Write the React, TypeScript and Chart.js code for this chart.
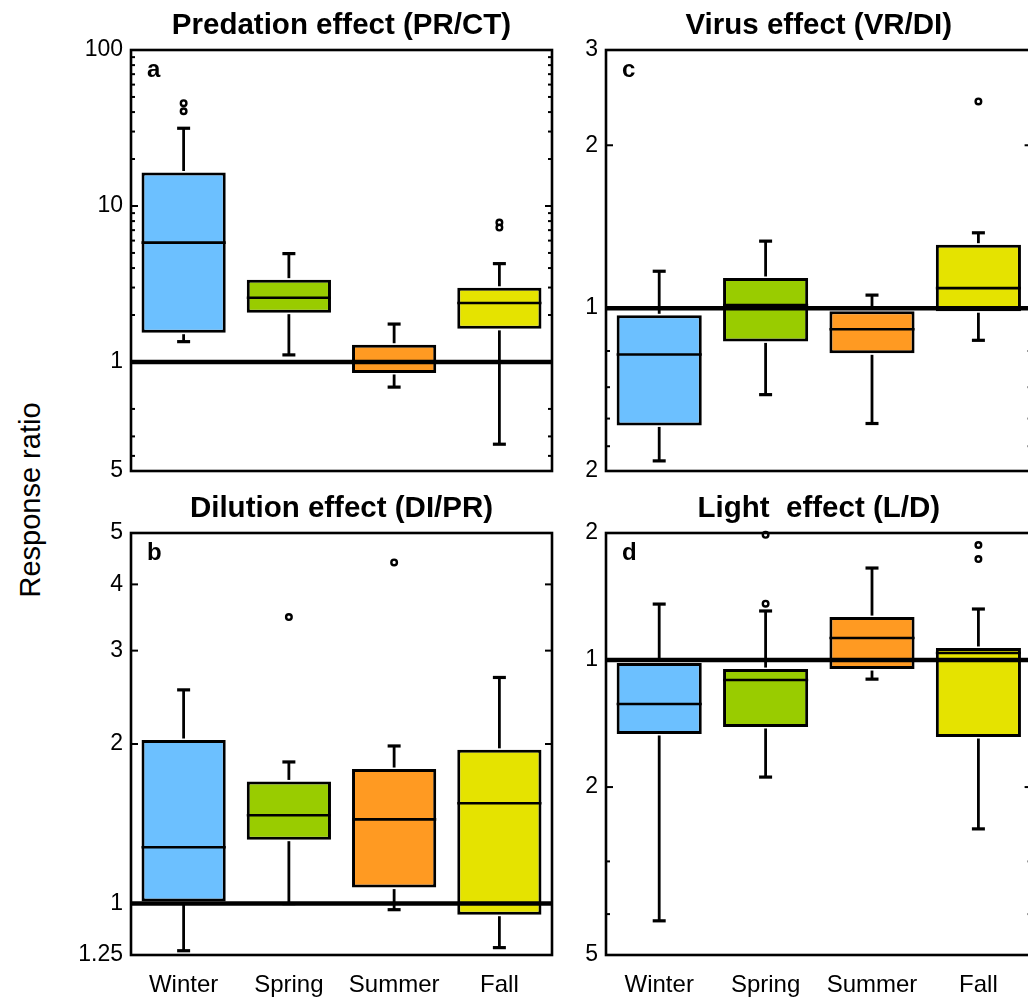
import React, { useEffect, useRef } from 'react';
import { Chart, registerables } from 'chart.js';

Chart.register(...registerables);

const FONT = 'Liberation Sans, Arial, Helvetica, sans-serif';

// Categories and colours
const categories = ['Winter', 'Spring', 'Summer', 'Fall'];
const boxColors = ['#6CC0FF', '#99CC00', '#FF9A22', '#E5E300'];

// Panel a: Predation effect (PR/CT)
const aQ1 = [1.54, 2.07, 0.85, 1.63];
const aMedian = [5.82, 2.58, 1.01, 2.39];
const aQ3 = [16.4, 3.37, 1.29, 2.99];
const aLow = [1.35, 1.11, 0.69, 0.297];
const aHigh = [31.5, 4.95, 1.75, 4.27];
const aOutliers = [[45.6, 40.5], [], [], [7.83, 7.27]];
const aTicks = [0.2, 1, 10, 100];
const aTickLabels = ['5', '1', '10', '100'];
const aMinorTicks = [0.25, 0.3333, 0.5, 2, 3, 4, 5, 6, 7, 8, 9, 20, 30, 40, 50, 60, 70, 80, 90];

// Panel b: Dilution effect (DI/PR)
const bQ1 = [1.009, 1.32, 1.072, 0.953];
const bMedian = [1.277, 1.468, 1.442, 1.546];
const bQ3 = [2.035, 1.7, 1.794, 1.95];
const bLow = [0.815, 1.0, 0.974, 0.826];
const bHigh = [2.53, 1.85, 1.983, 2.67];
const bOutliers = [[], [3.47], [4.4], []];
const bTicks = [0.8, 1, 2, 3, 4, 5];
const bTickLabels = ['1.25', '1', '2', '3', '4', '5'];
const bMinorTicks: number[] = [];

// Panel c: Virus effect (VR/DI)
const cQ1 = [0.607, 0.868, 0.825, 0.987];
const cMedian = [0.821, 1.013, 0.914, 1.089];
const cQ3 = [0.97, 1.137, 0.987, 1.31];
const cLow = [0.522, 0.692, 0.612, 0.872];
const cHigh = [1.17, 1.33, 1.057, 1.378];
const cOutliers = [[], [], [], [2.41]];
const cTicks = [0.5, 1, 2, 3];
const cTickLabels = ['2', '1', '2', '3'];
const cMinorTicks = [0.5556, 0.625, 0.7143, 0.8333];

// Panel d: Light effect (L/D)
const dQ1 = [0.668, 0.694, 0.952, 0.657];
const dMedian = [0.787, 0.897, 1.128, 1.039];
const dQ3 = [0.984, 0.952, 1.264, 1.068];
const dLow = [0.241, 0.528, 0.901, 0.398];
const dHigh = [1.357, 1.307, 1.652, 1.321];
const dOutliers = [[], [1.98, 1.36], [], [1.873, 1.735]];
const dTicks = [0.2, 0.5, 1, 2];
const dTickLabels = ['5', '2', '1', '2'];
const dMinorTicks = [0.25, 0.3333];

type PanelCfg = {
  title: string;
  letter: string;
  q1: number[];
  median: number[];
  q3: number[];
  low: number[];
  high: number[];
  outliers: number[][];
  ticks: number[];
  tickLabels: string[];
  minor: number[];
  showX: boolean;
  left: number;
  top: number;
  width: number;
  height: number;
  padRight: number;
  titleTop: number;
};

const TITLE_SIZE = 29.5;
const TITLE_LINE = TITLE_SIZE * 1.2;

const panels: PanelCfg[] = [
  {
    title: 'Predation effect (PR/CT)', letter: 'a',
    q1: aQ1, median: aMedian, q3: aQ3, low: aLow, high: aHigh, outliers: aOutliers,
    ticks: aTicks, tickLabels: aTickLabels, minor: aMinorTicks,
    showX: false, left: 70, top: 0, width: 510, height: 480, padRight: 28, titleTop: 8,
  },
  {
    title: 'Virus effect (VR/DI)', letter: 'c',
    q1: cQ1, median: cMedian, q3: cQ3, low: cLow, high: cHigh, outliers: cOutliers,
    ticks: cTicks, tickLabels: cTickLabels, minor: cMinorTicks,
    showX: false, left: 545, top: 0, width: 493, height: 480, padRight: 1, titleTop: 8,
  },
  {
    title: 'Dilution effect (DI/PR)', letter: 'b',
    q1: bQ1, median: bMedian, q3: bQ3, low: bLow, high: bHigh, outliers: bOutliers,
    ticks: bTicks, tickLabels: bTickLabels, minor: bMinorTicks,
    showX: true, left: 70, top: 480, width: 510, height: 517, padRight: 28, titleTop: 11,
  },
  {
    title: 'Light  effect (L/D)', letter: 'd',
    q1: dQ1, median: dMedian, q3: dQ3, low: dLow, high: dHigh, outliers: dOutliers,
    ticks: dTicks, tickLabels: dTickLabels, minor: dMinorTicks,
    showX: true, left: 545, top: 480, width: 493, height: 517, padRight: 1, titleTop: 11,
  },
];

function ChartPanel({ cfg }: { cfg: PanelCfg }) {
  const ref = useRef<HTMLCanvasElement>(null);

  useEffect(() => {
    const canvas = ref.current;
    if (!canvas) return;

    const extras = {
      id: 'boxExtras',
      afterDatasetsDraw(chart: any) {
        const { ctx, chartArea } = chart;
        const y = chart.scales.y;
        const meta = chart.getDatasetMeta(0);
        ctx.save();
        ctx.strokeStyle = '#000';
        ctx.lineCap = 'butt';
        const seg = (x1: number, y1: number, x2: number, y2: number, w: number) => {
          ctx.lineWidth = w;
          ctx.beginPath();
          ctx.moveTo(x1, y1);
          ctx.lineTo(x2, y2);
          ctx.stroke();
        };
        meta.data.forEach((bar: any, i: number) => {
          const half = bar.width / 2;
          const ym = y.getPixelForValue(cfg.median[i]);
          seg(bar.x - half, ym, bar.x + half, ym, 2.6);
          const yq3 = y.getPixelForValue(cfg.q3[i]);
          const yq1 = y.getPixelForValue(cfg.q1[i]);
          const yh = y.getPixelForValue(cfg.high[i]);
          const yl = y.getPixelForValue(cfg.low[i]);
          seg(bar.x, yq3 - 1.5, bar.x, yh, 2.8);
          seg(bar.x, yq1 + 1.5, bar.x, yl, 2.8);
          seg(bar.x - 6.5, yh, bar.x + 6.5, yh, 3.2);
          seg(bar.x - 6.5, yl, bar.x + 6.5, yl, 3.2);
        });
        // reference line at 1
        const y1 = y.getPixelForValue(1);
        seg(chartArea.left, y1, chartArea.right, y1, 4.5);
        // inner tick marks on both sides
        const inner = cfg.ticks.slice(1, cfg.ticks.length - 1);
        inner.forEach((v) => {
          const p = y.getPixelForValue(v);
          seg(chartArea.left, p, chartArea.left + 7, p, 2);
          seg(chartArea.right, p, chartArea.right - 7, p, 2);
        });
        cfg.minor.forEach((v) => {
          const p = y.getPixelForValue(v);
          seg(chartArea.left, p, chartArea.left + 4, p, 2);
          seg(chartArea.right, p, chartArea.right - 4, p, 2);
        });
        // frame
        ctx.lineWidth = 2.6;
        ctx.strokeRect(chartArea.left, chartArea.top, chartArea.right - chartArea.left, chartArea.bottom - chartArea.top);
        // panel letter
        ctx.fillStyle = '#000';
        ctx.font = `bold 24px ${FONT}`;
        ctx.textAlign = 'left';
        ctx.textBaseline = 'alphabetic';
        ctx.fillText(cfg.letter, chartArea.left + 16, chartArea.top + 27);
        ctx.restore();
      },
    };

    const outlierPoints = cfg.outliers.flatMap((vals, i) =>
      vals.map((v) => ({ x: categories[i], y: v }))
    );

    const chart = new Chart(canvas, {
      type: 'bar',
      data: {
        labels: categories,
        datasets: [
          {
            type: 'bar',
            data: cfg.q1.map((v, i) => [v, cfg.q3[i]]) as any,
            backgroundColor: boxColors,
            borderColor: '#000',
            borderWidth: 3,
            borderSkipped: false,
            categoryPercentage: 0.8,
            barPercentage: 1.0,
          } as any,
          {
            type: 'scatter',
            data: outlierPoints as any,
            pointRadius: 2.8,
            pointBackgroundColor: '#fff',
            pointBorderColor: '#000',
            pointBorderWidth: 2.4,
            clip: false,
          } as any,
        ],
      },
      options: {
        animation: false,
        responsive: false,
        maintainAspectRatio: false,
        events: [],
        layout: {
          padding: { left: 0, right: cfg.padRight, top: 0, bottom: cfg.showX ? 0 : 9 },
        },
        plugins: {
          legend: { display: false },
          tooltip: { enabled: false },
          title: {
            display: true,
            text: cfg.title,
            fullSize: false,
            color: '#000',
            font: { family: FONT, size: TITLE_SIZE, weight: 'bold', lineHeight: 1.2 },
            padding: { top: cfg.titleTop, bottom: (cfg.showX ? 53 : 50) - cfg.titleTop - TITLE_LINE },
          },
        },
        scales: {
          x: {
            type: 'category',
            display: cfg.showX,
            offset: true,
            grid: { display: false, drawTicks: false },
            border: { display: false },
            ticks: {
              color: '#000',
              font: { family: FONT, size: 24 },
              padding: 16,
              maxRotation: 0,
              autoSkip: false,
            },
            afterFit: (s: any) => {
              s.height = cfg.showX ? 42 : 0;
              s.paddingLeft = 0;
              s.paddingRight = 0;
            },
          },
          y: {
            type: 'logarithmic',
            min: cfg.ticks[0],
            max: cfg.ticks[cfg.ticks.length - 1],
            grid: { display: false, drawTicks: false },
            border: { display: false },
            ticks: {
              color: '#000',
              font: { family: FONT, size: 23 },
              padding: 8,
              autoSkip: false,
              callback: (_v: any, i: number) => cfg.tickLabels[i] ?? '',
            },
            afterBuildTicks: (s: any) => {
              s.ticks = cfg.ticks.map((v) => ({ value: v }));
            },
            afterFit: (s: any) => {
              s.width = 61;
              s.paddingTop = 0;
              s.paddingBottom = 0;
            },
          },
        },
      } as any,
      plugins: [extras],
    });

    return () => chart.destroy();
  }, [cfg]);

  return (
    <canvas
      ref={ref}
      width={cfg.width}
      height={cfg.height}
      style={{
        position: 'absolute',
        left: cfg.left,
        top: cfg.top,
        width: cfg.width,
        height: cfg.height,
        display: 'block',
      }}
    />
  );
}

export default function App() {
  return (
    <div
      style={{
        position: 'absolute',
        left: 0,
        top: 0,
        width: 1028,
        height: 997,
        overflow: 'hidden',
        background: '#fff',
      }}
    >
      {panels.map((p) => (
        <ChartPanel key={p.letter} cfg={p} />
      ))}
      <div
        style={{
          position: 'absolute',
          left: 30,
          top: 500,
          transform: 'translate(-50%, -50%) rotate(-90deg)',
          whiteSpace: 'nowrap',
          fontFamily: FONT,
          fontSize: 29,
          color: '#000',
        }}
      >
        Response ratio
      </div>
    </div>
  );
}
